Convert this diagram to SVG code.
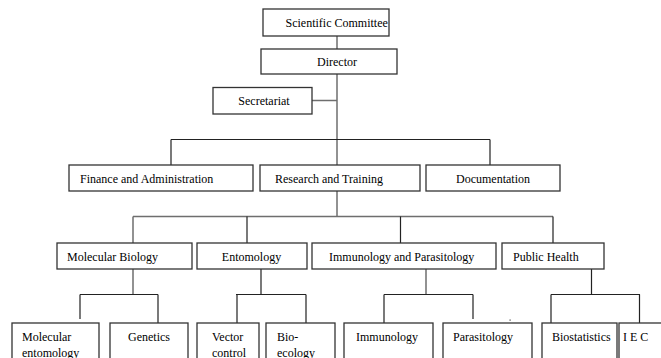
<svg xmlns="http://www.w3.org/2000/svg" width="661" height="358" viewBox="0 0 661 358">
<style>
.box{fill:#fff;stroke:#333;stroke-width:1.3}
.t{font-family:"Liberation Serif","Times New Roman",serif;font-size:12px;fill:#000}
.c{fill:none;stroke:#222;stroke-width:1.2}
.g{fill:none;stroke:#6e6e6e;stroke-width:1.5}
</style>
<rect width="661" height="358" fill="#fff"/>
<g id="connectors">
<path class="g" d="M337 36V49"/>
<path class="g" d="M337 74V165"/>
<path class="g" d="M312 100.5H337"/>
<path class="c" d="M171 139.5H490"/>
<path class="c" d="M171 139.5V165M490 139.5V165"/>
<path class="g" d="M337 191V216.5"/>
<path class="g" d="M133 216.5H553"/>
<path class="g" d="M133 216.5V243"/>
<path class="c" d="M247 216.5V243M400.5 216.5V243M553 216.5V243"/>
<path class="g" d="M133 269V294.5"/>
<path class="c" d="M80 294.5H158M80 294.5V319M158 294.5V323"/>
<path class="c" d="M261 269V294.5M236 294.5H306M237 294.5V323M306 294.5V323"/>
<path class="g" d="M426 269V294.5"/>
<path class="c" d="M384 294.5H473M384 294.5V323M473 294.5V319"/>
<path class="c" d="M591.5 269V294.5M551 294.5H640M551 294.5V323M639.5 294.5V323"/>
<rect x="509.5" y="319.5" width="1.2" height="1.2" fill="#444"/>
</g>
<g id="scientific-committee"><rect class="box" x="263" y="9" width="126" height="27"/><text class="t" x="285.5" y="27">Scientific Committee</text></g>
<g id="director"><rect class="box" x="261" y="49" width="136" height="25"/><text class="t" x="337" y="66" text-anchor="middle">Director</text></g>
<g id="secretariat"><rect class="box" x="213" y="87.5" width="99" height="26.5"/><text class="t" x="264" y="105" text-anchor="middle">Secretariat</text></g>
<g id="finance"><rect class="box" x="69" y="165" width="184" height="26"/><text class="t" x="80" y="182.5">Finance and Administration</text></g>
<g id="research"><rect class="box" x="260" y="165" width="160" height="26"/><text class="t" x="275" y="182.5">Research and Training</text></g>
<g id="documentation"><rect class="box" x="426" y="165" width="134" height="26"/><text class="t" x="493" y="182.5" text-anchor="middle">Documentation</text></g>
<g id="molecular-biology"><rect class="box" x="57" y="243" width="135" height="26"/><text class="t" x="67" y="260.5">Molecular Biology</text></g>
<g id="entomology"><rect class="box" x="197" y="243" width="110" height="26"/><text class="t" x="251.5" y="260.5" text-anchor="middle">Entomology</text></g>
<g id="immunology-parasitology"><rect class="box" x="312" y="243" width="184" height="26"/><text class="t" x="329" y="260.5">Immunology and Parasitology</text></g>
<g id="public-health"><rect class="box" x="502" y="243" width="102" height="26"/><text class="t" x="513" y="260.5">Public Health</text></g>
<g id="molecular-entomology"><rect class="box" x="12" y="323" width="87" height="50"/><text class="t" x="22" y="341">Molecular</text><text class="t" x="22" y="356.5">entomology</text></g>
<g id="genetics"><rect class="box" x="110" y="323" width="78" height="50"/><text class="t" x="128" y="341">Genetics</text></g>
<g id="vector-control"><rect class="box" x="197" y="323" width="62" height="50"/><text class="t" x="212" y="341">Vector</text><text class="t" x="212" y="356.5">control</text></g>
<g id="bio-ecology"><rect class="box" x="266" y="323" width="69" height="50"/><text class="t" x="277" y="341">Bio-</text><text class="t" x="277" y="356.5">ecology</text></g>
<g id="immunology"><rect class="box" x="344" y="323" width="89" height="50"/><text class="t" x="356" y="341">Immunology</text></g>
<g id="parasitology"><rect class="box" x="443" y="323" width="89" height="50"/><text class="t" x="453" y="341">Parasitology</text></g>
<g id="biostatistics"><rect class="box" x="542" y="323" width="75" height="50"/><text class="t" x="552" y="341">Biostatistics</text></g>
<g id="iec"><rect class="box" x="619" y="323" width="60" height="50"/><text class="t" x="623" y="341">I E C</text></g>
</svg>
